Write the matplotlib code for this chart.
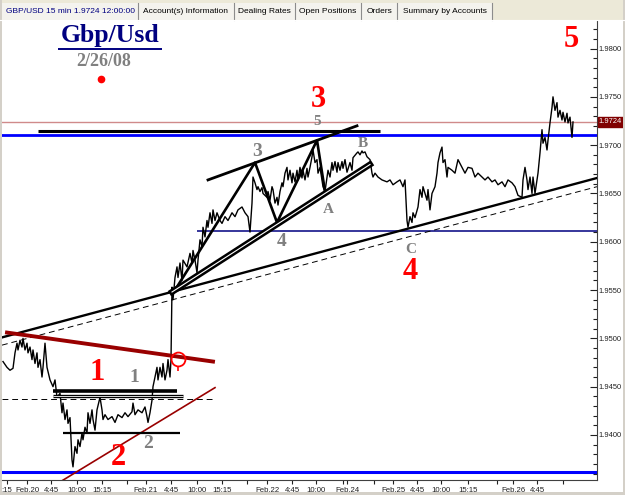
import matplotlib.pyplot as plt
from matplotlib.patches import Rectangle
from matplotlib.lines import Line2D
import matplotlib.transforms as mtransforms

# GBP/USD 15 min - position on time axis and price
bar_pos = [3, 7, 10, 13, 15, 17, 18, 20, 22, 23, 25, 27, 28, 30, 32, 33, 35, 37, 38, 40,
           42, 43, 45, 47, 50, 53, 55, 57, 60, 62, 63, 65, 67, 68, 70, 72, 73, 75, 77, 78,
           80, 82, 83, 85, 87, 88, 90, 92, 93, 95, 97, 100, 102, 103, 105, 108, 112, 115, 118, 122,
           125, 128, 132, 133, 135, 138, 142, 145, 147, 148, 150, 152, 153, 155, 157, 158, 160, 162, 163, 165,
           167, 168, 170, 171, 172, 173, 175, 177, 178, 180, 182, 183, 187, 190, 192, 193, 195, 197, 198, 200,
           202, 203, 205, 207, 208, 210, 212, 213, 215, 217, 220, 222, 225, 228, 232, 235, 238, 242, 245, 248,
           250, 252, 253, 255, 257, 258, 260, 262, 263, 267, 268, 270, 272, 273, 275, 277, 278, 280, 282, 283,
           285, 287, 288, 290, 292, 293, 295, 297, 298, 300, 302, 303, 305, 307, 308, 310, 312, 313, 315, 317,
           318, 320, 322, 323, 325, 327, 328, 330, 332, 333, 335, 337, 338, 340, 342, 343, 345, 347, 350, 352,
           353, 357, 358, 360, 362, 363, 365, 367, 370, 372, 373, 375, 378, 382, 387, 390, 393, 397, 400, 403,
           405, 407, 408, 410, 412, 413, 415, 418, 420, 422, 423, 427, 428, 430, 432, 435, 437, 438, 440, 442,
           443, 445, 447, 448, 452, 455, 458, 462, 465, 468, 472, 475, 478, 482, 485, 488, 492, 495, 498, 502,
           505, 508, 512, 515, 518, 522, 523, 525, 527, 528, 530, 532, 533, 535, 537, 538, 540, 542, 543, 545,
           547, 548, 550, 552, 553, 555, 557, 558, 560, 562, 563, 565, 567, 568, 570, 572, 573]
close = [1.9476, 1.9470, 1.9467, 1.9469, 1.9485, 1.9495, 1.9488, 1.9498, 1.9491, 1.9500,
         1.9488, 1.9495, 1.9485, 1.9491, 1.9478, 1.9488, 1.9474, 1.9485, 1.9470, 1.9478,
         1.9460, 1.9470, 1.9495, 1.9470, 1.9457, 1.9450, 1.9457, 1.9439, 1.9443, 1.9423,
         1.9433, 1.9416, 1.9426, 1.9412, 1.9418, 1.9374, 1.9367, 1.9388, 1.9381, 1.9395,
         1.9388, 1.9402, 1.9395, 1.9408, 1.9402, 1.9423, 1.9412, 1.9426, 1.9416, 1.9405,
         1.9426, 1.9439, 1.9426, 1.9416, 1.9421, 1.9416, 1.9419, 1.9413, 1.9421, 1.9418,
         1.9423, 1.9419, 1.9424, 1.9433, 1.9421, 1.9426, 1.9423, 1.9429, 1.9419, 1.9413,
         1.9423, 1.9436, 1.9450, 1.9460, 1.9470, 1.9457, 1.9470, 1.9460, 1.9474, 1.9457,
         1.9467, 1.9478, 1.9460, 1.9478, 1.9553, 1.9540, 1.9563, 1.9574, 1.9563, 1.9578,
         1.9560, 1.9581, 1.9574, 1.9588, 1.9578, 1.9591, 1.9581, 1.9568, 1.9581, 1.9602,
         1.9595, 1.9615, 1.9605, 1.9622, 1.9615, 1.9630, 1.9619, 1.9633, 1.9622, 1.9630,
         1.9622, 1.9619, 1.9626, 1.9622, 1.9630, 1.9626, 1.9633, 1.9636, 1.9630, 1.9626,
         1.9610, 1.9640, 1.9667, 1.9661, 1.9654, 1.9657, 1.9652, 1.9656, 1.9650, 1.9646,
         1.9652, 1.9643, 1.9657, 1.9654, 1.9640, 1.9646, 1.9638, 1.9652, 1.9661, 1.9657,
         1.9671, 1.9677, 1.9664, 1.9674, 1.9661, 1.9671, 1.9662, 1.9674, 1.9664, 1.9677,
         1.9666, 1.9674, 1.9664, 1.9676, 1.9667, 1.9677, 1.9688, 1.9695, 1.9682, 1.9685,
         1.9671, 1.9677, 1.9664, 1.9657, 1.9652, 1.9667, 1.9674, 1.9667, 1.9682, 1.9674,
         1.9683, 1.9672, 1.9682, 1.9674, 1.9683, 1.9676, 1.9685, 1.9672, 1.9682, 1.9674,
         1.9687, 1.9692, 1.9693, 1.9690, 1.9694, 1.9692, 1.9693, 1.9688, 1.9685, 1.9671,
         1.9667, 1.9671, 1.9667, 1.9664, 1.9662, 1.9664, 1.9659, 1.9662, 1.9664, 1.9657,
         1.9664, 1.9622, 1.9615, 1.9626, 1.9620, 1.9630, 1.9625, 1.9636, 1.9654, 1.9646,
         1.9657, 1.9643, 1.9654, 1.9633, 1.9650, 1.9657, 1.9671, 1.9682, 1.9692, 1.9698,
         1.9682, 1.9685, 1.9667, 1.9677, 1.9674, 1.9671, 1.9685, 1.9677, 1.9671, 1.9677,
         1.9676, 1.9667, 1.9671, 1.9667, 1.9664, 1.9667, 1.9662, 1.9664, 1.9659, 1.9662,
         1.9657, 1.9664, 1.9661, 1.9657, 1.9648, 1.9646, 1.9664, 1.9677, 1.9664, 1.9654,
         1.9667, 1.9650, 1.9667, 1.9650, 1.9664, 1.9671, 1.9692, 1.9716, 1.9702, 1.9708,
         1.9695, 1.9705, 1.9723, 1.9739, 1.9750, 1.9736, 1.9744, 1.9729, 1.9736, 1.9726,
         1.9734, 1.9724, 1.9733, 1.9723, 1.9729, 1.9708, 1.9724]

# time axis labels
tick_pos = [7, 27, 51, 77, 102, 146, 171, 197, 222, 267, 292, 316, 347, 393, 417, 441, 468, 513, 537]
tick_labels = [":15", "Feb.20", "4:45", "10:00", "15:15", "Feb.21", "4:45", "10:00", "15:15",
               "Feb.22", "4:45", "10:00", "Feb.24", "Feb.25", "4:45", "10:00", "15:15", "Feb.26", "4:45"]
minor_pos = [127, 247, 343, 374, 497, 563]

# horizontal levels
last_price = 1.9724
blue_top = 1.9711
black_top = 1.9715
blue_mid = 1.9611
blue_low = 1.9362

# trend lines (x, price) end points
trend_main = [(2, 1.9501), (597, 1.9666)]
trend_dashed = [(2, 1.9493), (597, 1.9657)]
channel_top = [(208, 1.9664), (357, 1.9720)]
channel_low = [(172, 1.9548), (370, 1.9680)]
wave_path = [(175, 1.9550), (255, 1.9682), (277, 1.9620), (317, 1.9705), (325, 1.9652)]
wave1_top = [(7, 1.9506), (213, 1.9476)]
wave2_line = [(61, 1.9352), (215, 1.9449)]
break_point = (178, 1.9479)

# wave labels: text, x, price
red_labels = [("5", 571, 1.9809), ("3", 318, 1.9747), ("4", 410, 1.9569),
              ("1", 97, 1.9465), ("2", 118, 1.9377)]
gray_labels = [("5", 317, 1.9724, 11), ("3", 257, 1.9693, 14), ("B", 363, 1.9702, 11),
               ("A", 328, 1.9633, 11), ("4", 282, 1.9600, 14), ("C", 411, 1.9592, 11),
               ("1", 134, 1.9460, 14), ("2", 148, 1.9391, 14)]

W, H = 625, 495
fig = plt.figure(figsize=(6.25, 4.95), dpi=100)
fig.patch.set_facecolor("white")
ax = fig.add_axes([2 / W, (H - 480) / H, 595 / W, 459 / H])
ax.set_facecolor("white")

serif = "Liberation Serif"
sans = "Liberation Sans"

ax.plot(bar_pos, close, color="black", lw=1.0, zorder=5)

ax.axhline(last_price, color="#D08A8A", lw=1.0, zorder=2)
ax.axhline(blue_top, color="#0000FF", lw=2.0, zorder=3)
ax.hlines(black_top, 38, 380, color="black", lw=2.2, zorder=4)
ax.hlines(blue_mid, 197, 597, color="#000080", lw=1.1, zorder=3)
ax.axhline(blue_low, color="#0000FF", lw=2.2, zorder=3)


def seg(pts, **kw):
    xs = [p[0] for p in pts]
    ys = [p[1] for p in pts]
    ax.plot(xs, ys, **kw)


seg(trend_main, color="black", lw=1.7, zorder=4)
seg(trend_dashed, color="black", lw=0.7, ls=(0, (6, 4)), zorder=4)
seg(channel_top, color="black", lw=2.0, zorder=6)
seg(channel_low, color="black", lw=4.4, zorder=6)
seg(channel_low, color="white", lw=0.8, zorder=7)
seg(wave_path, color="black", lw=1.9, zorder=6)
seg(wave1_top, color="#990000", lw=2.8, zorder=6)
seg(wave2_line, color="#990000", lw=1.2, zorder=6)

# wave 1 / wave 2 levels
ax.hlines(1.9446, 53, 177, color="black", lw=2.6, zorder=6)
ax.hlines(1.9440, 53, 183, color="black", lw=2.4, zorder=6)
ax.hlines(1.9440, 53, 183, color="white", lw=0.6, zorder=7)
ax.hlines(1.9437, 2, 215, color="black", lw=0.7, linestyles=(0, (6, 4)), zorder=4)
ax.hlines(1.9402, 63, 180, color="black", lw=1.6, zorder=6)

ax.plot(*break_point, marker="o", ms=10, mfc="none", mec="#FF0000", mew=1.3, zorder=8)
ax.vlines(break_point[0], 1.9466, 1.9471, color="#FF0000", lw=1.2, zorder=8)

for txt, x, y in red_labels:
    ax.text(x, y, txt, color="#FF0000", fontsize=22, fontweight="bold", family=serif,
            ha="center", va="center", zorder=9)
for txt, x, y, fs in gray_labels:
    ax.text(x, y, txt, color="#808080", fontsize=fs, fontweight="bold", family=serif,
            ha="center", va="center", zorder=3)

# title block
ax.text(110, 1.9813, "Gbp/Usd", color="#000080", fontsize=18.5, fontweight="bold",
        family=serif, ha="center", va="center", zorder=9)
ax.hlines(1.97996, 58, 162, color="#000080", lw=1.4, zorder=9)
ax.text(104, 1.9787, "2/26/08", color="#808080", fontsize=13, fontweight="bold",
        family=serif, ha="center", va="center", zorder=9)
ax.plot(101, 1.9768, marker="o", ms=4.5, color="#FF0000", zorder=9)

ax.set_xlim(2, 597)
ax.set_ylim(1.93534, 1.98285)

for s in ["top", "left"]:
    ax.spines[s].set_visible(False)
ax.spines["right"].set_color("#404040")
ax.spines["bottom"].set_color("#404040")
ax.spines["right"].set_linewidth(0.8)
ax.spines["bottom"].set_linewidth(0.8)

ax.yaxis.tick_right()
ax.set_yticks([1.94 + 0.005 * i for i in range(9)])
ax.set_yticklabels(["%.4f" % (1.94 + 0.005 * i) for i in range(9)], fontsize=5.4, family=sans)
ax.set_yticks([1.936 + 0.001 * i for i in range(47)], minor=True)
ax.tick_params(axis="y", which="major", direction="in", length=5, width=0.8, pad=1.2, colors="#202020")
ax.tick_params(axis="y", which="minor", direction="in", length=3, width=0.8, colors="#202020")

ax.set_xticks(tick_pos)
ax.set_xticklabels(tick_labels, fontsize=5.6, family=sans)
ax.set_xticks(minor_pos, minor=True)
ax.tick_params(axis="x", which="both", direction="out", length=3, width=0.8, pad=2, colors="#202020")

trans = mtransforms.blended_transform_factory(ax.transAxes, ax.transData)
ax.text(1.003, last_price, "1.9724", transform=trans, fontsize=5.4, family=sans, color="white",
        ha="left", va="center", zorder=10,
        bbox=dict(boxstyle="square,pad=0.15", fc="#800000", ec="#800000"))

# tab bar of the trading window
fig.patches.append(Rectangle((0, (H - 20) / H), 1, 20 / H, transform=fig.transFigure,
                             fc="#ECE9D8", ec="none", zorder=0))
tabs = [("GBP/USD 15 min 1.9724 12:00:00", 2, 138, "#000080"),
        ("Account(s) Information", 138, 234, "black"),
        ("Dealing Rates", 234, 295, "black"),
        ("Open Positions", 295, 361, "black"),
        ("Orders", 361, 397, "black"),
        ("Summary by Accounts", 397, 492, "black")]
for label, x0, x1, col in tabs:
    fig.patches.append(Rectangle((x0 / W, (H - 20) / H), (x1 - x0) / W, 17 / H,
                                 transform=fig.transFigure, fc="#F4F3EE", ec="none"))
    fig.lines.append(Line2D([x1 / W, x1 / W], [(H - 20) / H, (H - 3) / H],
                            transform=fig.transFigure, color="#8C8C8C", lw=0.8))
    fig.text((x0 + x1) / 2 / W, (H - 11.5) / H, label, color=col, fontsize=6.0,
             family=sans, ha="center", va="center")
fig.lines.append(Line2D([0, 1], [(H - 20) / H, (H - 20) / H], transform=fig.transFigure,
                        color="#FFFFFF", lw=0.8))

# window frame
fig.patches.append(Rectangle((0, 0), 2 / W, 1, transform=fig.transFigure, fc="#D4D0C8", ec="none"))
fig.patches.append(Rectangle((0, 0), 1, 3 / H, transform=fig.transFigure, fc="#D4D0C8", ec="none"))
fig.patches.append(Rectangle((623 / W, 0), 2 / W, 1, transform=fig.transFigure, fc="#D4D0C8", ec="none"))

fig.savefig("out.png", dpi=100)
